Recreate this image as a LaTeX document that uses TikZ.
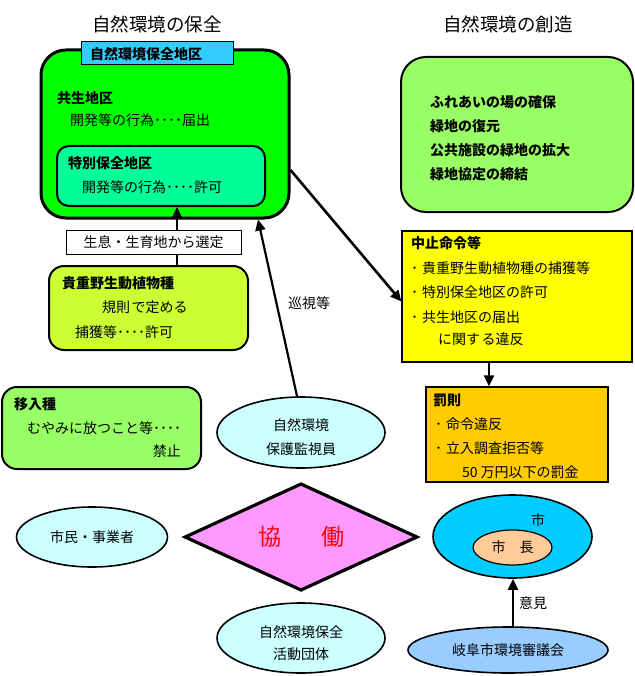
\documentclass[tikz,border=0pt]{standalone}
\usepackage{fontspec}
\setmainfont{Noto Sans CJK JP}
\usetikzlibrary{shapes.geometric,arrows.meta}
\definecolor{bigGreen}{RGB}{0,255,0}
\definecolor{innerGreen}{RGB}{0,255,153}
\definecolor{lightGreen}{RGB}{153,255,102}
\definecolor{yellowGreen}{RGB}{204,255,51}
\definecolor{labelCyan}{RGB}{51,204,255}
\definecolor{boxYellow}{RGB}{255,255,0}
\definecolor{boxOrange}{RGB}{255,204,0}
\definecolor{paleCyan}{RGB}{204,255,255}
\definecolor{cityBlue}{RGB}{0,204,255}
\definecolor{peach}{RGB}{255,204,153}
\definecolor{skyBlue}{RGB}{153,204,255}
\definecolor{violet}{RGB}{255,153,255}
\begin{document}
\begin{tikzpicture}[x=1pt,y=-1pt,
  rbox/.style={draw,line width=2pt,inner sep=0pt},
  sbox/.style={draw,line width=1.2pt,inner sep=0pt},
  ell/.style={draw,ellipse,line width=1.6pt,inner sep=0pt},
  txt/.style={anchor=west,inner sep=0pt,font=\fontsize{14}{16}\selectfont},
  ctxt/.style={inner sep=0pt,font=\fontsize{14}{16}\selectfont},
  hd/.style={anchor=west,inner sep=0pt,font=\fontsize{14}{16}\selectfont\bfseries},
  ttl/.style={inner sep=0pt,font=\fontsize{18.5}{20}\selectfont},
  arr/.style={line width=2.2pt,-{Triangle[length=11pt,width=10pt]}}
]
\useasboundingbox (0,0) rectangle (634,676);

% titles
\node[ttl] (t1) at (157,24) {自然環境の保全};
\node[ttl] (t2) at (508,24) {自然環境の創造};

% big green box
\node[rbox,line width=3pt,rounded corners=25pt,fill=bigGreen,minimum width=248pt,minimum height=168pt] (big) at (165,134) {};
\node[sbox,line width=1pt,fill=labelCyan,minimum width=152pt,minimum height=23pt] (lbl) at (157,53.5) {};
\node[hd] (lbltxt) at (90,54) {自然環境保全地区};
\node[hd] (kyosei) at (57,98) {共生地区};
\node[txt] (kyosei2) at (70,120) {開発等の行為････届出};
\node[rbox,rounded corners=12pt,fill=innerGreen,minimum width=208pt,minimum height=60pt] (inner) at (161,176) {};
\node[hd] (tokubetsu) at (68,163) {特別保全地区};
\node[txt] (tokubetsu2) at (82,187) {開発等の行為････許可};

% right top box
\node[rbox,rounded corners=25pt,fill=lightGreen,minimum width=232pt,minimum height=155pt] (create) at (517,134.5) {};
\node[hd] (c1) at (430,102) {ふれあいの場の確保};
\node[hd] (c2) at (430,126) {緑地の復元};
\node[hd] (c3) at (430,150) {公共施設の緑地の拡大};
\node[hd] (c4) at (430,174) {緑地協定の締結};

% kicho box
\node[rbox,rounded corners=15pt,fill=yellowGreen,minimum width=199pt,minimum height=84pt] (kicho) at (148.5,308) {};
\node[hd] (k1) at (62,283) {貴重野生動植物種};
\node[txt] (k2) at (102,307) {規則\hspace{1.5pt}で定める};
\node[txt] (k3) at (75,332) {捕獲等････許可};

% arrow kicho -> inner, with white label box
\draw[arr] ([xshift=28.5pt]kicho.north) -- ([xshift=16pt]inner.south);
\node[draw,line width=0.8pt,fill=white,inner sep=0pt,minimum width=175pt,minimum height=24pt,font=\fontsize{14}{16}\selectfont] (select) at (153.5,242) {生息・生育地から選定};

% inyu box
\node[rbox,rounded corners=15pt,fill=lightGreen,minimum width=199pt,minimum height=82pt] (inyu) at (101.5,428) {};
\node[hd] (i1) at (14,404) {移入種};
\node[txt] (i2) at (27,428) {むやみに放つこと等････};
\node[txt,anchor=east] (i3) at (181,451) {禁止};

% patrol ellipse
\node[ell,fill=paleCyan,minimum width=168pt,minimum height=71pt] (patrol) at (301,432.5) {};
\node[ctxt] (p1) at (301,425) {自然環境};
\node[ctxt] (p2) at (301,449) {保護監視員};
\draw[arr] ([xshift=-4pt]patrol.north) -- ([xshift=93pt]big.south);
\node[ctxt] (junshi) at (309,303) {巡視等};

% yellow box
\node[sbox,fill=boxYellow,minimum width=230pt,minimum height=131pt] (stop) at (517,296.5) {};
\node[hd] (s1) at (411,243) {中止命令等};
\node[txt] (s2) at (411,268) {･\hspace{4pt}貴重野生動植物種の捕獲等};
\node[txt] (s3) at (411,292) {･\hspace{4pt}特別保全地区の許可};
\node[txt] (s4) at (411,317) {･\hspace{4pt}共生地区の届出};
\node[txt] (s5) at (438,339) {に関す\hspace{1.5pt}る違反};
\draw[arr,line width=2.6pt] ([yshift=-36pt]big.east) -- ([yshift=-5pt]stop.west);

% penalty box
\node[sbox,fill=boxOrange,minimum width=182pt,minimum height=95pt] (penalty) at (517,434.5) {};
\node[hd] (b1) at (433,400) {罰則};
\node[txt] (b2) at (435,424) {･\hspace{4pt}命令違反};
\node[txt] (b3) at (435,448) {･\hspace{4pt}立入調査拒否等};
\node[txt] (b4) at (462,472) {50\hspace{3pt}万円以下の罰金};
\draw[arr] ([xshift=-28pt]stop.south) -- ([xshift=-28pt]penalty.north);

% collaboration
\node[draw,diamond,line width=3.2pt,fill=violet,inner sep=0pt,minimum width=233pt,minimum height=107pt,text=red,font=\fontsize{23}{25}\selectfont] (kyodo) at (301,537) {協\hspace{40pt}働};
\node[ell,fill=paleCyan,minimum width=151pt,minimum height=60pt,font=\fontsize{14}{16}\selectfont] (citizen) at (92,537) {市民・事業者};
\node[ell,fill=paleCyan,minimum width=168pt,minimum height=70pt] (group) at (301,638) {};
\node[ctxt] (g1) at (301,632) {自然環境保全};
\node[ctxt] (g2) at (301,654) {活動団体};

% city
\node[ell,fill=cityBlue,minimum width=159pt,minimum height=83pt] (city) at (512.5,536.5) {};
\node[ctxt] (citytxt) at (538,520) {市};
\node[ell,line width=1.2pt,fill=peach,minimum width=79pt,minimum height=35pt,font=\fontsize{14}{16}\selectfont] (mayor) at (512.5,547.5) {市　長};
\node[ell,fill=skyBlue,minimum width=200pt,minimum height=46pt,font=\fontsize{14}{16}\selectfont] (council) at (508,650) {岐阜市環境審議会};
\draw[arr] ([xshift=5pt]council.north) -- ([xshift=0.5pt]city.south);
\node[ctxt] (iken) at (533,603) {意見};
\end{tikzpicture}
\end{document}
